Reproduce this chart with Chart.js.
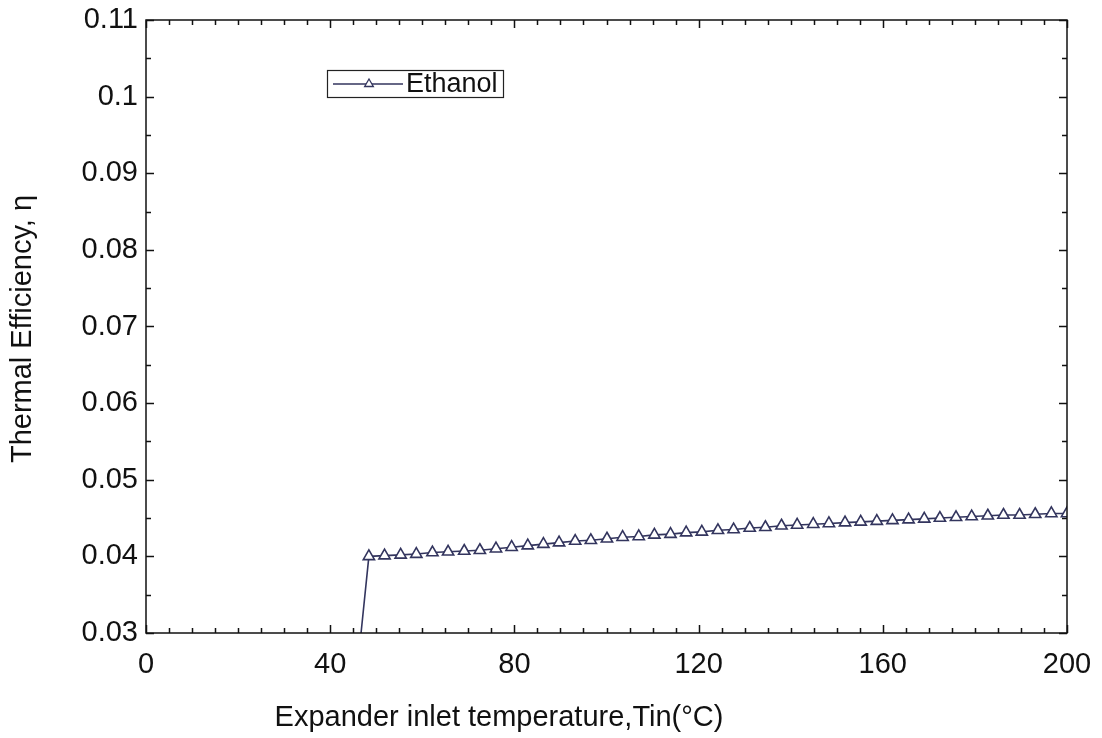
<!DOCTYPE html>
<html>
<head>
<meta charset="utf-8">
<script src="https://cdn.jsdelivr.net/npm/chart.js@4/dist/chart.umd.min.js"></script>
<style>
  body { margin: 0; background: #fff; }
  #wrap { width: 1102px; height: 738px; }
</style>
</head>
<body>
<div id="wrap"><canvas id="effChart" width="1102" height="738"></canvas></div>
<script>
// Data
const seriesLabel = 'Ethanol';
const tempIn = [45.0, 48.4, 51.8, 55.3, 58.7, 62.2, 65.6, 69.1, 72.5, 76.0, 79.4, 82.9, 86.3, 89.7,
    93.2, 96.6, 100.1, 103.5, 107.0, 110.4, 113.9, 117.3, 120.7, 124.2, 127.6, 131.1,
    134.5, 138.0, 141.4, 144.9, 148.3, 151.8, 155.2, 158.7, 162.1, 165.6, 169.0, 172.4,
    175.9, 179.3, 182.8, 186.2, 189.7, 193.1, 196.6, 200.0];
const thermalEff = [0.0200, 0.0400, 0.0401, 0.0402, 0.0403, 0.0405, 0.0406, 0.0407, 0.0408, 0.0410,
    0.0412, 0.0414, 0.0416, 0.0418, 0.0420, 0.0421, 0.0423, 0.0425, 0.0426, 0.0428,
    0.0429, 0.0431, 0.0432, 0.0434, 0.0435, 0.0437, 0.0438, 0.0440, 0.0441, 0.0442,
    0.0443, 0.0444, 0.0445, 0.0446, 0.0447, 0.0448, 0.0449, 0.0450, 0.0451, 0.0452,
    0.0453, 0.0454, 0.0454, 0.0455, 0.0456, 0.0456];
const xTickValues = [0, 40, 80, 120, 160, 200];
const yTickValues = [0.03, 0.04, 0.05, 0.06, 0.07, 0.08, 0.09, 0.1, 0.11];

const xTitle = 'Expander inlet temperature,Tin(°C)';
const yTitle = 'Thermal Efficiency, η';

const lineColor = '#33355e';
const font = "'Liberation Sans', Arial, sans-serif";

// frame with inward ticks on all four sides
const framePlugin = {
    id: 'frame',
    afterDatasetsDraw(chart) {
        const { ctx, chartArea: a, scales: { x, y } } = chart;
        ctx.save();
        ctx.strokeStyle = '#111';
        ctx.lineWidth = 1.5;
        ctx.strokeRect(a.left, a.top, a.right - a.left, a.bottom - a.top);
        ctx.beginPath();
        for (let v = x.min; v <= x.max + 0.001; v += 5) {
            const px = Math.round(x.getPixelForValue(v)) + 0.5;
            const len = xTickValues.includes(v) ? 8 : 5;
            ctx.moveTo(px, a.bottom); ctx.lineTo(px, a.bottom - len);
            ctx.moveTo(px, a.top); ctx.lineTo(px, a.top + len);
        }
        for (let i = 0; i <= 16; i++) {
            const v = y.min + i * 0.005;
            const py = Math.round(y.getPixelForValue(v)) + 0.5;
            const len = i % 2 === 0 ? 8 : 5;
            ctx.moveTo(a.left, py); ctx.lineTo(a.left + len, py);
            ctx.moveTo(a.right, py); ctx.lineTo(a.right - len, py);
        }
        ctx.stroke();
        ctx.restore();
    }
};

// axis titles and the boxed legend
const labelPlugin = {
    id: 'labels',
    afterDraw(chart) {
        const { ctx } = chart;
        const ds = chart.data.datasets[0];
        ctx.save();
        ctx.fillStyle = '#111';
        ctx.font = '29px ' + font;
        ctx.textAlign = 'center';
        ctx.textBaseline = 'middle';
        ctx.fillText(xTitle, 499, 718);

        ctx.translate(23, 329);
        ctx.rotate(-Math.PI / 2);
        ctx.fillText(yTitle, 0, 0);
        ctx.restore();

        // legend box
        ctx.save();
        ctx.strokeStyle = '#222';
        ctx.lineWidth = 1.2;
        ctx.strokeRect(327.5, 70.5, 176, 27);
        ctx.strokeStyle = ds.borderColor;
        ctx.lineWidth = 1.3;
        ctx.beginPath();
        ctx.moveTo(333, 84); ctx.lineTo(403, 84);
        ctx.stroke();
        ctx.fillStyle = '#fff';
        Chart.helpers.drawPoint(ctx, { pointStyle: 'triangle', radius: 5, borderWidth: 1.3 }, 369, 84);
        ctx.fillStyle = '#111';
        ctx.font = '27px ' + font;
        ctx.textAlign = 'left';
        ctx.textBaseline = 'middle';
        ctx.fillText(ds.label, 406, 85);
        ctx.restore();
    }
};

new Chart(document.getElementById('effChart'), {
    type: 'line',
    data: {
        datasets: [{
            label: seriesLabel,
            data: tempIn.map((t, i) => ({ x: t, y: thermalEff[i] })),
            borderColor: lineColor,
            borderWidth: 1.6,
            pointStyle: 'triangle',
            pointRadius: 6.5,
            pointBackgroundColor: '#fff',
            pointBorderColor: lineColor,
            pointBorderWidth: 1.6,
            tension: 0
        }]
    },
    options: {
        responsive: false,
        animation: false,
        layout: { padding: { top: 20, right: 35, left: 0, bottom: 0 } },
        plugins: {
            legend: { display: false },
            tooltip: { enabled: false }
        },
        scales: {
            x: {
                type: 'linear',
                min: 0,
                max: 200,
                afterBuildTicks: s => { s.ticks = xTickValues.map(v => ({ value: v })); },
                afterFit: s => { s.height = 738 - 633; s.paddingLeft = 0; s.paddingRight = 0; },
                grid: { display: false, drawTicks: false },
                border: { display: false },
                ticks: { color: '#111', font: { family: font, size: 29 }, padding: 15, maxRotation: 0 }
            },
            y: {
                min: 0.03,
                max: 0.11,
                afterBuildTicks: s => { s.ticks = yTickValues.map(v => ({ value: v })); },
                afterFit: s => { s.width = 146; s.paddingTop = 0; s.paddingBottom = 0; },
                grid: { display: false, drawTicks: false },
                border: { display: false },
                ticks: {
                    color: '#111',
                    font: { family: font, size: 29 },
                    padding: 8,
                    callback: v => String(Number(v.toFixed(3)))
                }
            }
        }
    },
    plugins: [framePlugin, labelPlugin]
});
</script>
</body>
</html>
